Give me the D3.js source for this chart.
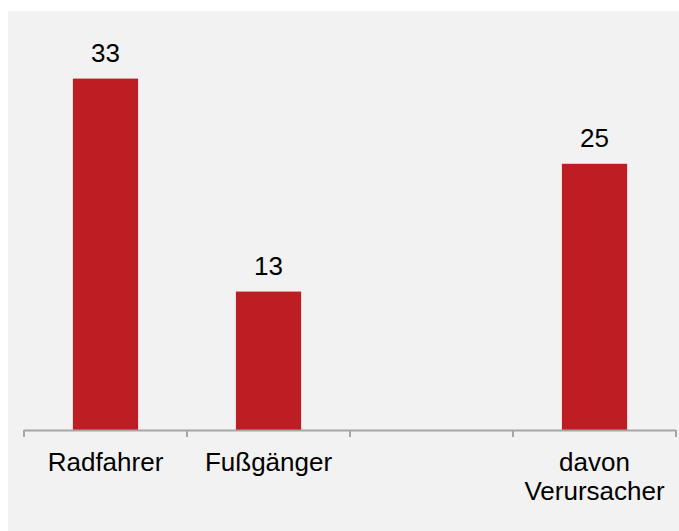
<!DOCTYPE html>
<html><head><meta charset="utf-8">
<script src="https://cdn.jsdelivr.net/npm/d3@7"></script>
<style>body{margin:0;background:#fff}svg{display:block}</style>
</head><body>
<script>
const categories = ["Radfahrer", "Fußgänger", "", "davon Verursacher"];
const values = [33, 13, null, 25];
const labelLines = [["Radfahrer"], ["Fußgänger"], [""], ["davon", "Verursacher"]];

const W = 679, H = 531;
const svg = d3.select("body").append("svg").attr("width", W).attr("height", H);
svg.append("rect").attr("x", 8).attr("y", 11).attr("width", W - 8).attr("height", H - 11).attr("fill", "#f2f2f2");

const x = d3.scaleBand().domain(categories.map((c, i) => i)).range([24, 676]).paddingInner(0.6).paddingOuter(0.3);
const y = d3.scaleLinear().domain([0, 35]).range([430, 57.3]);
const font = "Liberation Sans, Arial, sans-serif";

const data = categories.map((c, i) => ({i, c, v: values[i]})).filter(d => d.v != null);

svg.selectAll("rect.bar").data(data).join("rect").attr("class", "bar")
  .attr("x", d => x(d.i)).attr("width", x.bandwidth())
  .attr("y", d => y(d.v)).attr("height", d => y(0) - y(d.v))
  .attr("fill", "#be1e23");

svg.selectAll("text.val").data(data).join("text").attr("class", "val")
  .attr("x", d => x(d.i) + x.bandwidth() / 2).attr("y", d => y(d.v) - 17)
  .attr("text-anchor", "middle").attr("font-family", font).attr("font-size", 26).attr("fill", "#000")
  .text(d => d.v);

// axis line and ticks
const step = x.step();
const edges = d3.range(categories.length + 1).map(k => 24 + k * (652 / categories.length));
svg.append("line").attr("x1", 24).attr("x2", 676).attr("y1", 430.5).attr("y2", 430.5).attr("stroke", "#a6a6a6").attr("stroke-width", 2);
svg.selectAll("line.tick").data(edges).join("line").attr("class", "tick")
  .attr("x1", d => d).attr("x2", d => d).attr("y1", 430).attr("y2", 437).attr("stroke", "#a6a6a6").attr("stroke-width", 2);

const lab = svg.selectAll("text.cat").data(categories.map((c, i) => i)).join("text").attr("class", "cat")
  .attr("text-anchor", "middle").attr("font-family", font).attr("font-size", 26).attr("fill", "#000");
lab.each(function(i) {
  const t = d3.select(this);
  labelLines[i].forEach((ln, k) => {
    t.append("tspan").attr("x", x(i) + x.bandwidth() / 2).attr("y", 471 + k * 29).text(ln);
  });
});
</script>
</body></html>
